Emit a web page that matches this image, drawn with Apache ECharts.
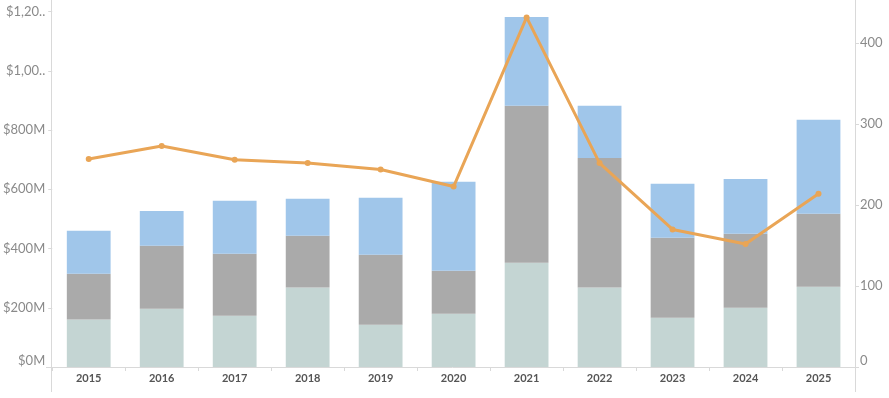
<!DOCTYPE html>
<html>
<head>
<meta charset="utf-8">
<script src="https://cdn.jsdelivr.net/npm/echarts@6/dist/echarts.min.js"></script>
<style>
  html, body { margin: 0; padding: 0; background: #fff; }
</style>
</head>
<body>
<div id="main" style="width: 889px; height: 398px"></div>
<script>
// data (bars in $M, line on the right axis)
const years = ['2015', '2016', '2017', '2018', '2019', '2020', '2021', '2022', '2023', '2024', '2025'];
const baseBar = [160, 197, 173, 268, 143, 180, 352, 268, 166, 200, 271];
const midBar = [155, 212, 209, 175, 236, 145, 530, 438, 270, 250, 246];
const topBar = [145, 118, 179, 125, 192, 300, 300, 176, 183, 185, 318];
const countLine = [257, 273, 256, 252, 244, 223, 432, 252, 170, 152, 214];
const leftTicks = [0, 200, 400, 600, 800, 1000, 1200];
const rightTicks = [0, 100, 200, 300, 400];

const FONT = 'Lato';
const AXIS_COLOR = '#d9d9d9';
const gLeft = 51, gRight = 34, gTop = 0, gBottom = 31;

const myChart = echarts.init(document.getElementById('main'));

function vline(x) {
  return { type: 'line', silent: true, shape: { x1: x, y1: 0, x2: x, y2: 392 }, style: { stroke: AXIS_COLOR, lineWidth: 1 } };
}

// the left labels don't fit, so the original cuts them short with '..'
function money(v) {
  const s = '$' + v.toLocaleString('en-US') + 'M';
  return s.length > 6 ? s.slice(0, 5) + '..' : s;
}

myChart.setOption({
  animation: false,
  grid: { left: gLeft, right: gRight, top: gTop, bottom: gBottom, containLabel: false },
  graphic: [
    vline(gLeft + 0.5),
    vline(889 - gRight + 0.5),
    { type: 'line', silent: true, shape: { x1: 46, y1: 398 - gBottom + 0.5, x2: 859, y2: 398 - gBottom + 0.5 }, style: { stroke: AXIS_COLOR, lineWidth: 1 } }
  ],
  xAxis: {
    type: 'category',
    data: years,
    axisLine: { show: false },
    axisTick: { show: true, interval: 0, length: 4, lineStyle: { color: AXIS_COLOR } },
    axisLabel: { color: '#555', fontFamily: FONT, fontSize: 11, fontWeight: 'bold', margin: 6 }
  },
  yAxis: [
    {
      type: 'value',
      min: 0,
      max: 1239,
      axisLine: { show: false },
      splitLine: { show: false },
      axisTick: { show: true, length: 4, customValues: leftTicks, lineStyle: { color: AXIS_COLOR } },
      axisLabel: {
        customValues: leftTicks,
        color: '#8a8a8a',
        fontFamily: FONT,
        fontSize: 13,
        margin: 7,
        verticalAlignMinLabel: 'bottom',
        formatter: money
      }
    },
    {
      type: 'value',
      min: 0,
      max: 453.5,
      position: 'right',
      axisLine: { show: false },
      splitLine: { show: false },
      axisTick: { show: true, length: 4, customValues: rightTicks, lineStyle: { color: AXIS_COLOR } },
      axisLabel: {
        customValues: rightTicks,
        color: '#8a8a8a',
        fontFamily: FONT,
        fontSize: 13,
        margin: 5,
        verticalAlignMinLabel: 'bottom'
      }
    }
  ],
  series: [
    {
      name: 'Base',
      type: 'bar',
      stack: 'total',
      barWidth: '60%',
      itemStyle: { color: '#c4d5d3' },
      data: baseBar
    },
    {
      name: 'Middle',
      type: 'bar',
      stack: 'total',
      itemStyle: { color: '#aaaaaa' },
      data: midBar
    },
    {
      name: 'Top',
      type: 'bar',
      stack: 'total',
      itemStyle: { color: '#a0c6ea' },
      data: topBar
    },
    {
      name: 'Count',
      type: 'line',
      yAxisIndex: 1,
      symbol: 'circle',
      symbolSize: 6,
      lineStyle: { width: 3, color: '#e9a556' },
      itemStyle: { color: '#e9a556' },
      data: countLine,
      z: 5
    }
  ]
});
</script>
</body>
</html>
